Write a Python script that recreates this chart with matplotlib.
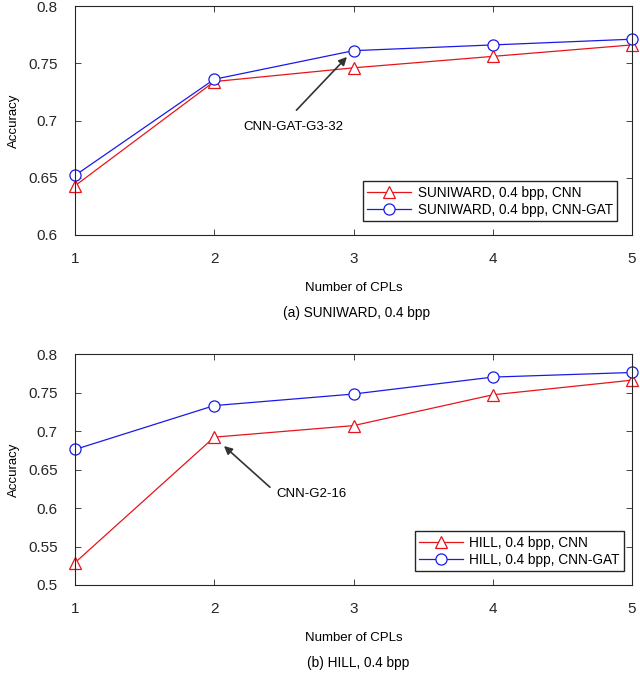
import matplotlib
matplotlib.use("Agg")
import matplotlib.pyplot as plt

plt.rcParams['font.family'] = ['Liberation Sans', 'DejaVu Sans']

cpls = [1, 2, 3, 4, 5]
suni_cnn = [0.643, 0.734, 0.746, 0.756, 0.766]
suni_gat = [0.652, 0.736, 0.761, 0.766, 0.771]
hill_cnn = [0.529, 0.692, 0.707, 0.747, 0.766]
hill_gat = [0.676, 0.733, 0.748, 0.770, 0.776]

W, H = 640, 675
fig = plt.figure(figsize=(W / 100, H / 100), dpi=100)

def ax_rect(l, t, r, b):
    return [l / W, 1 - b / H, (r - l) / W, (b - t) / H]

ax1 = fig.add_axes(ax_rect(75, 6, 632, 235))
ax2 = fig.add_axes(ax_rect(75, 354, 632, 585))

def style(ax, ylim, yticks, ylabels):
    ax.set_xlim(1, 5)
    ax.set_ylim(*ylim)
    ax.set_xticks(cpls)
    ax.set_yticks(yticks)
    ax.set_yticklabels(ylabels)
    ax.tick_params(direction='in', top=True, right=True, labelsize=11,
                   length=4, width=0.6, colors='#262626', pad=12.5)
    for s in ax.spines.values():
        s.set_linewidth(0.8)
        s.set_color('#262626')
    ax.set_xlabel('Number of CPLs', fontsize=9.5, labelpad=11)
    ax.set_ylabel('Accuracy', fontsize=9.5, labelpad=6)

LEG = dict(fontsize=9.8, fancybox=False, edgecolor='#262626', framealpha=1,
           handlelength=3.2, borderpad=0.3, labelspacing=0.25, handletextpad=0.5,
           borderaxespad=0)
ARROW = dict(arrowstyle='-|>', color='#333333', lw=1.2, mutation_scale=12,
             shrinkA=0, shrinkB=0)

l1, = ax1.plot(cpls, suni_cnn, color='#e8141b', lw=0.9, marker='^', ms=8,
               mfc='white', mec='#e8141b', mew=0.9, label='SUNIWARD, 0.4 bpp, CNN')
l2, = ax1.plot(cpls, suni_gat, color='#1a1ae6', lw=0.9, marker='o', ms=8,
               mfc='white', mec='#1a1ae6', mew=0.9, label='SUNIWARD, 0.4 bpp, CNN-GAT')
style(ax1, (0.6, 0.8), [0.6, 0.65, 0.7, 0.75, 0.8], ['0.6', '0.65', '0.7', '0.75', '0.8'])
for l in (l1, l2):
    l.set_clip_on(False)
ax1.legend(loc='lower right', bbox_to_anchor=(0.973, 0.061), **LEG)
ax1.text(2.57, 0.6943, 'CNN-GAT-G3-32', fontsize=9.5, ha='center', va='center')
ax1.annotate('', xy=(2.953, 0.7555), xytext=(2.59, 0.709), arrowprops=ARROW)

m1, = ax2.plot(cpls, hill_cnn, color='#e8141b', lw=0.9, marker='^', ms=8,
               mfc='white', mec='#e8141b', mew=0.9, label='HILL, 0.4 bpp, CNN')
m2, = ax2.plot(cpls, hill_gat, color='#1a1ae6', lw=0.9, marker='o', ms=8,
               mfc='white', mec='#1a1ae6', mew=0.9, label='HILL, 0.4 bpp, CNN-GAT')
style(ax2, (0.5, 0.8), [0.5, 0.55, 0.6, 0.65, 0.7, 0.75, 0.8],
      ['0.5', '0.55', '0.6', '0.65', '0.7', '0.75', '0.8'])
for l in (m1, m2):
    l.set_clip_on(False)
ax2.legend(loc='lower right', bbox_to_anchor=(0.9856, 0.0606), **LEG)
ax2.text(2.70, 0.618, 'CNN-G2-16', fontsize=9.5, ha='center', va='center')
ax2.annotate('', xy=(2.07, 0.6805), xytext=(2.40, 0.627), arrowprops=ARROW)

fig.text(357 / W, 1 - 313 / H, '(a) SUNIWARD, 0.4 bpp', ha='center', va='center', fontsize=9.8)
fig.text(358 / W, 1 - 663 / H, '(b) HILL, 0.4 bpp', ha='center', va='center', fontsize=9.8)

fig.savefig('out.png', dpi=100)
